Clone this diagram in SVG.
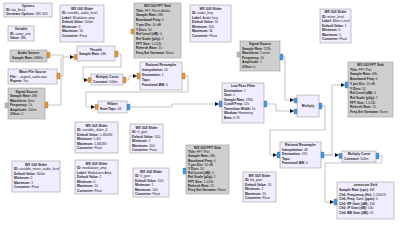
<svg xmlns="http://www.w3.org/2000/svg" width="400" height="228" viewBox="0 0 400 228">
<style>
rect.n{fill:#F1ECFF;stroke:#8c8c8c;stroke-width:0.5}
rect.g{fill:#CFCFCF;stroke:#8c8c8c;stroke-width:0.5}
text{font-family:"Liberation Sans",Arial,sans-serif;font-size:3.3px;fill:#222}
.t{font-weight:bold;text-anchor:middle}
.k{font-weight:bold}
.po{fill:#F7941D;stroke:#666;stroke-width:0.3}
.pb{fill:#3399FF;stroke:#666;stroke-width:0.3}
.pg{fill:#BDBDBD;stroke:#777;stroke-width:0.3}
#connectors path{fill:none;stroke:#a0a0a0;stroke-width:0.6}
</style>
<defs>
<marker id="ah" markerUnits="userSpaceOnUse" markerWidth="5" markerHeight="4" refX="4" refY="2" orient="auto"><path d="M0,0 L4,2 L0,4 Z" fill="#111"/></marker>
</defs>
<rect width="400" height="228" fill="#fff"/>
<g id="connectors">
<path d="M50,55 H63 V57 H74" marker-end="url(#ah)"/>
<path d="M60,76 H63 V57"/>
<path d="M48,105 H61 V57"/>
<path d="M118,54 H121 V67 H83 V80 H88" marker-end="url(#ah)"/>
<path d="M126,80 H129 V76 H137" marker-end="url(#ah)"/>
<path d="M185,76 H188 V92 H86 V107 H95" marker-end="url(#ah)"/>
<path d="M130,107 H172 V104 H219" marker-end="url(#ah)"/>
<path d="M283,57 H285 V100 H294" marker-end="url(#ah)"/>
<path d="M267,104 H276 V111 H294" marker-end="url(#ah)"/>
<path d="M322,106 H325 V130 H270 V155 H277" marker-end="url(#ah)"/>
<path d="M324,155 H339" marker-end="url(#ah)"/>
<path d="M324,155 H332 V85 H345" marker-end="url(#ah)"/>
<path d="M379,156 H382 V163 H325 V202 H334" marker-end="url(#ah)"/>
</g>
<g id="options"><rect class="n" x="4" y="3" width="48" height="14"/>
<text class="t" x="28" y="7">Options</text>
<text x="6" y="11"><tspan class="k">ID:</tspan> top_block</text>
<text x="6" y="15"><tspan class="k">Generate Options:</tspan> WX GUI</text></g>
<g id="variable"><rect class="n" x="8" y="26" width="26" height="15"/>
<text class="t" x="21" y="30">Variable</text>
<text x="10" y="34.5"><tspan class="k">ID:</tspan> samp_rate</text>
<text x="10" y="39"><tspan class="k">Value:</tspan> 48k</text></g>
<g id="sliderA"><rect class="n" x="60" y="5" width="44" height="37"/>
<text class="t" x="82" y="9.5">WX GUI Slider</text>
<text x="62" y="14"><tspan class="k">ID:</tspan> variable_audio_level</text>
<text x="62" y="18.5"><tspan class="k">Label:</tspan> Modulator amp</text>
<text x="62" y="23"><tspan class="k">Default Value:</tspan> 500m</text>
<text x="62" y="27.5"><tspan class="k">Minimum:</tspan> 0</text>
<text x="62" y="32"><tspan class="k">Maximum:</tspan> 10</text>
<text x="62" y="36.5"><tspan class="k">Converter:</tspan> Float</text></g>
<g id="fftTop"><rect class="g" x="134" y="3" width="47" height="55"/><rect class="po" x="131" y="29" width="3" height="5"/>
<text class="t" x="157.5" y="7">WX GUI FFT Sink</text>
<text x="136" y="11.7"><tspan class="k">Title:</tspan> FFT Plot in Audio</text>
<text x="136" y="16.4"><tspan class="k">Sample Rate:</tspan> 48k</text>
<text x="136" y="21.1"><tspan class="k">Baseband Freq:</tspan> 0</text>
<text x="136" y="25.8"><tspan class="k">Y per Div:</tspan> 10 dB</text>
<text x="136" y="30.5"><tspan class="k">Y Divs:</tspan> 10</text>
<text x="136" y="35.2"><tspan class="k">Ref Level (dB):</tspan> 0</text>
<text x="136" y="39.9"><tspan class="k">Ref Scale (p2p):</tspan> 2</text>
<text x="136" y="44.6"><tspan class="k">FFT Size:</tspan> 1.024k</text>
<text x="136" y="49.3"><tspan class="k">Refresh Rate:</tspan> 15</text>
<text x="136" y="54"><tspan class="k">Freq Set Varname:</tspan> None</text></g>
<g id="sliderB"><rect class="n" x="190" y="5" width="41" height="37"/>
<text class="t" x="210.5" y="9.5">WX GUI Slider</text>
<text x="192" y="14"><tspan class="k">ID:</tspan> audio_freq</text>
<text x="192" y="18.5"><tspan class="k">Label:</tspan> Audio freq</text>
<text x="192" y="23"><tspan class="k">Default Value:</tspan> 1k</text>
<text x="192" y="27.5"><tspan class="k">Minimum:</tspan> 100</text>
<text x="192" y="32"><tspan class="k">Maximum:</tspan> 3k</text>
<text x="192" y="36.5"><tspan class="k">Converter:</tspan> Float</text></g>
<g id="sigTop"><rect class="g" x="240" y="41" width="40" height="30"/><rect class="pg" x="237" y="52" width="3" height="5"/><rect class="pb" x="280" y="54" width="3" height="6"/>
<text class="t" x="260" y="45">Signal Source</text>
<text x="242" y="49.5"><tspan class="k">Sample Rate:</tspan> 192k</text>
<text x="242" y="54"><tspan class="k">Waveform:</tspan> Cosine</text>
<text x="242" y="58.5"><tspan class="k">Frequency:</tspan> 1k</text>
<text x="242" y="63"><tspan class="k">Amplitude:</tspan> 1</text>
<text x="242" y="67.5"><tspan class="k">Offset:</tspan> 0</text></g>
<g id="sliderC"><rect class="n" x="320" y="9" width="31" height="34"/>
<text class="t" x="335.5" y="13">WX GUI Slider</text>
<text x="322" y="17.5"><tspan class="k">ID:</tspan> mixer_level</text>
<text x="322" y="22"><tspan class="k">Label:</tspan> Mixer Level</text>
<text x="322" y="26.5"><tspan class="k">Default Value:</tspan> 1</text>
<text x="322" y="31"><tspan class="k">Minimum:</tspan> 0</text>
<text x="322" y="35.5"><tspan class="k">Maximum:</tspan> 5</text>
<text x="322" y="40"><tspan class="k">Converter:</tspan> Float</text></g>
<g id="fftRight"><rect class="g" x="348" y="62" width="45" height="55"/><rect class="pb" x="345" y="82" width="3" height="6"/>
<text class="t" x="370.5" y="66">WX GUI FFT Sink</text>
<text x="350" y="70.7"><tspan class="k">Title:</tspan> FFT Plot</text>
<text x="350" y="75.4"><tspan class="k">Sample Rate:</tspan> 48k</text>
<text x="350" y="80.1"><tspan class="k">Baseband Freq:</tspan> 0</text>
<text x="350" y="84.8"><tspan class="k">Y per Div:</tspan> 10 dB</text>
<text x="350" y="89.5"><tspan class="k">Y Divs:</tspan> 10</text>
<text x="350" y="94.2"><tspan class="k">Ref Level (dB):</tspan> 0</text>
<text x="350" y="98.9"><tspan class="k">Ref Scale (p2p):</tspan> 2</text>
<text x="350" y="103.6"><tspan class="k">FFT Size:</tspan> 1.024k</text>
<text x="350" y="108.3"><tspan class="k">Refresh Rate:</tspan> 15</text>
<text x="350" y="113"><tspan class="k">Freq Set Varname:</tspan> None</text></g>
<g id="audioSource"><rect class="g" x="10" y="50" width="37" height="12"/><rect class="po" x="47" y="52" width="3" height="6"/>
<text class="t" x="28.5" y="54">Audio Source</text>
<text x="12" y="58.5"><tspan class="k">Sample Rate:</tspan> 48kHz</text></g>
<g id="throttle"><rect class="n" x="77" y="46" width="38" height="15"/><rect class="po" x="74" y="54.5" width="3" height="5"/><rect class="po" x="115" y="51" width="3" height="6"/>
<text class="t" x="96" y="50.5">Throttle</text>
<text x="79" y="55"><tspan class="k">Sample Rate:</tspan> 48k</text></g>
<g id="waveFile"><rect class="n" x="8" y="69" width="49" height="15"/><rect class="po" x="57" y="73" width="3" height="6"/>
<text class="t" x="32.5" y="73">Wave File Source</text>
<text x="10" y="77.5"><tspan class="k">File:</tspan> ...orginal_audio.wav</text>
<text x="10" y="82"><tspan class="k">Repeat:</tspan> Yes</text></g>
<g id="sigLeft"><rect class="g" x="8" y="88" width="37" height="31"/><rect class="pg" x="5" y="103" width="3" height="5"/><rect class="po" x="45" y="102" width="3" height="6"/>
<text class="t" x="26.5" y="92.5">Signal Source</text>
<text x="10" y="97"><tspan class="k">Sample Rate:</tspan> 48k</text>
<text x="10" y="101.5"><tspan class="k">Waveform:</tspan> Sine</text>
<text x="10" y="106"><tspan class="k">Frequency:</tspan> 1k</text>
<text x="10" y="110.5"><tspan class="k">Amplitude:</tspan> 500m</text>
<text x="10" y="115"><tspan class="k">Offset:</tspan> 0</text></g>
<g id="mulConstLeft"><rect class="n" x="91" y="74" width="32" height="11"/><rect class="po" x="88" y="77.5" width="3" height="5"/><rect class="po" x="123" y="77" width="3" height="6"/>
<text class="t" x="107" y="78">Multiply Const</text>
<text x="93" y="82.5"><tspan class="k">Constant:</tspan> 500m</text></g>
<g id="resampTop"><rect class="n" x="140" y="62" width="42" height="28"/><rect class="po" x="137" y="73" width="3" height="6"/><rect class="po" x="182" y="73" width="3" height="6"/>
<text class="t" x="161" y="66">Rational Resampler</text>
<text x="142" y="71"><tspan class="k">Interpolation:</tspan> 24</text>
<text x="142" y="76"><tspan class="k">Decimation:</tspan> 1</text>
<text x="142" y="81"><tspan class="k">Taps:</tspan></text>
<text x="142" y="86"><tspan class="k">Fractional BW:</tspan> 0</text></g>
<g id="hilbert"><rect class="n" x="98" y="101" width="29" height="12"/><rect class="po" x="95" y="104.5" width="3" height="5"/><rect class="pb" x="127" y="104" width="3" height="6"/>
<text class="t" x="112.5" y="105">Hilbert</text>
<text x="100" y="109.5"><tspan class="k">Num Taps:</tspan> 64</text></g>
<g id="lpf"><rect class="n" x="222" y="83" width="42" height="40"/><rect class="pb" x="219" y="101" width="3" height="6"/><rect class="pb" x="264" y="101" width="3" height="6"/>
<text class="t" x="243" y="87">Low Pass Filter</text>
<text x="224" y="91.5"><tspan class="k">Decimation:</tspan> 1</text>
<text x="224" y="96"><tspan class="k">Gain:</tspan> 1</text>
<text x="224" y="100.5"><tspan class="k">Sample Rate:</tspan> 192k</text>
<text x="224" y="105"><tspan class="k">Cutoff Freq:</tspan> 12k</text>
<text x="224" y="109.5"><tspan class="k">Transition Width:</tspan> 1k</text>
<text x="224" y="114"><tspan class="k">Window:</tspan> Hamming</text>
<text x="224" y="118.5"><tspan class="k">Beta:</tspan> 6.76</text></g>
<g id="multiply"><rect class="n" x="297" y="95" width="22" height="22"/><rect class="pb" x="294" y="98" width="3" height="5"/><rect class="pb" x="294" y="109" width="3" height="5"/><rect class="pb" x="319" y="103" width="3" height="6"/>
<text class="t" x="308" y="107">Multiply</text></g>
<g id="sliderD"><rect class="n" x="75" y="122" width="43" height="31"/>
<text class="t" x="96.5" y="126.5">WX GUI Slider</text>
<text x="77" y="131"><tspan class="k">ID:</tspan> variable_slider_0</text>
<text x="77" y="135.5"><tspan class="k">Default Value:</tspan> 1.4603G</text>
<text x="77" y="140"><tspan class="k">Minimum:</tspan> 1.4G</text>
<text x="77" y="144.5"><tspan class="k">Maximum:</tspan> 1.6603G</text>
<text x="77" y="149"><tspan class="k">Converter:</tspan> Float</text></g>
<g id="sliderE"><rect class="n" x="130" y="124" width="33" height="29"/>
<text class="t" x="146.5" y="128.5">WX GUI Slider</text>
<text x="132" y="133"><tspan class="k">ID:</tspan> rf_gain</text>
<text x="132" y="137.5"><tspan class="k">Default Value:</tspan> 100</text>
<text x="132" y="142"><tspan class="k">Minimum:</tspan> 1</text>
<text x="132" y="146.5"><tspan class="k">Maximum:</tspan> 100</text>
<text x="132" y="151"><tspan class="k">Converter:</tspan> Float</text></g>
<g id="sliderF"><rect class="n" x="12" y="161" width="48" height="31"/>
<text class="t" x="36" y="165.5">WX GUI Slider</text>
<text x="14" y="170"><tspan class="k">ID:</tspan> variable_mixer_audio_level</text>
<text x="14" y="174.5"><tspan class="k">Default Value:</tspan> 300m</text>
<text x="14" y="179"><tspan class="k">Minimum:</tspan> 0</text>
<text x="14" y="183.5"><tspan class="k">Maximum:</tspan> 1</text>
<text x="14" y="188"><tspan class="k">Converter:</tspan> Float</text></g>
<g id="sliderG"><rect class="n" x="75" y="160" width="43" height="34"/>
<text class="t" x="96.5" y="164.5">WX GUI Slider</text>
<text x="77" y="169"><tspan class="k">ID:</tspan> modulation_amp</text>
<text x="77" y="173.5"><tspan class="k">Label:</tspan> Modulation Amp</text>
<text x="77" y="178"><tspan class="k">Default Value:</tspan> 1</text>
<text x="77" y="182.5"><tspan class="k">Minimum:</tspan> 0</text>
<text x="77" y="187"><tspan class="k">Maximum:</tspan> 10</text>
<text x="77" y="191.5"><tspan class="k">Converter:</tspan> Float</text></g>
<g id="sliderH"><rect class="n" x="133" y="168" width="36" height="29"/>
<text class="t" x="151" y="172.5">WX GUI Slider</text>
<text x="135" y="177"><tspan class="k">ID:</tspan> if_gain</text>
<text x="135" y="181.5"><tspan class="k">Default Value:</tspan> 100</text>
<text x="135" y="186"><tspan class="k">Minimum:</tspan> 1</text>
<text x="135" y="190.5"><tspan class="k">Maximum:</tspan> 100</text>
<text x="135" y="195"><tspan class="k">Converter:</tspan> Float</text></g>
<g id="fftBottom"><rect class="g" x="186" y="145" width="43" height="49"/><rect class="pb" x="183" y="168" width="3" height="6"/>
<text class="t" x="207.5" y="149">WX GUI FFT Sink</text>
<text x="188" y="153.2"><tspan class="k">Title:</tspan> FFT Plot</text>
<text x="188" y="157.4"><tspan class="k">Sample Rate:</tspan> 48k</text>
<text x="188" y="161.6"><tspan class="k">Baseband Freq:</tspan> 0</text>
<text x="188" y="165.8"><tspan class="k">Y per Div:</tspan> 10 dB</text>
<text x="188" y="170"><tspan class="k">Y Divs:</tspan> 10</text>
<text x="188" y="174.2"><tspan class="k">Ref Level (dB):</tspan> 0</text>
<text x="188" y="178.4"><tspan class="k">Ref Scale (p2p):</tspan> 2</text>
<text x="188" y="182.6"><tspan class="k">FFT Size:</tspan> 1.024k</text>
<text x="188" y="186.8"><tspan class="k">Refresh Rate:</tspan> 15</text>
<text x="188" y="191"><tspan class="k">Freq Set Varname:</tspan> None</text></g>
<g id="resampBottom"><rect class="n" x="280" y="142" width="41" height="26"/><rect class="pb" x="277" y="152" width="3" height="6"/><rect class="pb" x="321" y="152" width="3" height="6"/>
<text class="t" x="300.5" y="146">Rational Resampler</text>
<text x="282" y="150.5"><tspan class="k">Interpolation:</tspan> 48</text>
<text x="282" y="155"><tspan class="k">Decimation:</tspan> 192</text>
<text x="282" y="159.5"><tspan class="k">Taps:</tspan></text>
<text x="282" y="164"><tspan class="k">Fractional BW:</tspan> 0</text></g>
<g id="sliderI"><rect class="n" x="243" y="172" width="33" height="30"/>
<text class="t" x="259.5" y="176.5">WX GUI Slider</text>
<text x="245" y="181"><tspan class="k">ID:</tspan> bb_gain</text>
<text x="245" y="185.5"><tspan class="k">Default Value:</tspan> 10</text>
<text x="245" y="190"><tspan class="k">Minimum:</tspan> 1</text>
<text x="245" y="194.5"><tspan class="k">Maximum:</tspan> 10</text>
<text x="245" y="199"><tspan class="k">Converter:</tspan> Float</text></g>
<g id="mulConstRight"><rect class="n" x="342" y="151" width="34" height="11"/><rect class="pb" x="339" y="153.5" width="3" height="5"/><rect class="pb" x="376" y="153" width="3" height="6"/>
<text class="t" x="359" y="155">Multiply Const</text>
<text x="344" y="159.5"><tspan class="k">Constant:</tspan> 500m</text></g>
<g id="osmocom"><rect class="n" x="337" y="182" width="57" height="37"/><rect class="pb" x="334" y="199" width="3" height="6"/>
<text class="t" x="365.5" y="186">osmocom Sink</text>
<text x="339" y="191"><tspan class="k">Sample Rate (sps):</tspan> 4M</text>
<text x="339" y="195.5"><tspan class="k">Ch0: Frequency (Hz):</tspan> 1.2601G</text>
<text x="339" y="200"><tspan class="k">Ch0: Freq. Corr. (ppm):</tspan> 0</text>
<text x="339" y="204.5"><tspan class="k">Ch0: RF Gain (dB):</tspan> 100</text>
<text x="339" y="209"><tspan class="k">Ch0: IF Gain (dB):</tspan> 100</text>
<text x="339" y="213.5"><tspan class="k">Ch0: BB Gain (dB):</tspan> 10</text></g>
</svg>
